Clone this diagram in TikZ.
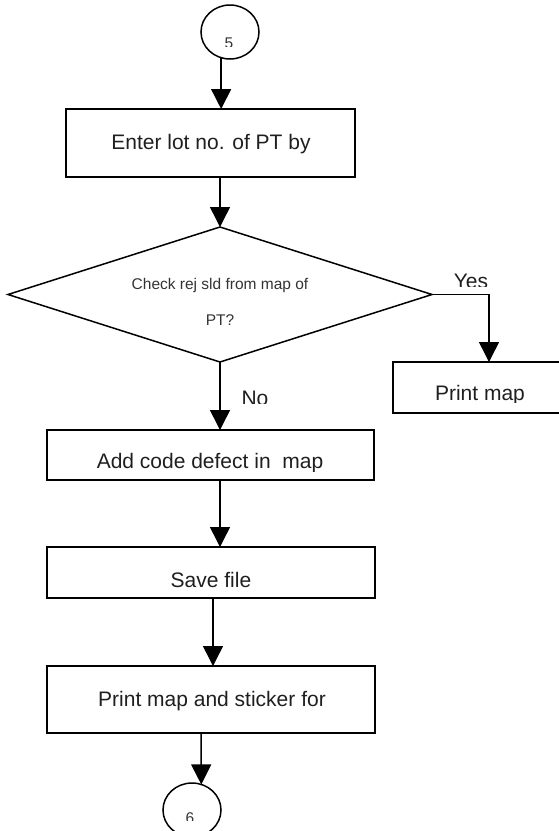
\documentclass[tikz,border=0pt]{standalone}
\usepackage{fontspec}
\setmainfont{Liberation Sans}
\usetikzlibrary{shapes.geometric,arrows.meta}
\begin{document}
\begin{tikzpicture}[x=1pt,y=-1pt,
  flow/.style={line width=1.5pt, draw=black},
  arr/.style={flow, -{Triangle[length=20pt,width=20pt]}},
  procbox/.style={draw, line width=1.5pt, rectangle, inner sep=0pt, outer sep=0pt},
  connector/.style={draw, line width=1.5pt, ellipse, inner sep=0pt, outer sep=0pt,
    minimum width=58pt, minimum height=54pt},
  decision/.style={draw, line width=1.5pt, diamond, inner sep=0pt, outer sep=0pt},
  bigtext/.style={inner sep=0pt, anchor=base, text=black!88, font=\fontsize{21}{25}\selectfont},
  smalltext/.style={inner sep=0pt, anchor=base, text=black!80, font=\fontsize{15.5}{18}\selectfont},
]
\useasboundingbox (0,0) rectangle (559,831);

% shapes
\node[connector] (c5) at (230,32) {};
\node[procbox, minimum width=289pt, minimum height=68pt] (b1) at (210.5,143) {};
\node[decision, minimum width=424pt, minimum height=135pt] (d) at (220,294.5) {};
\node[procbox, minimum width=207pt, minimum height=51pt] (pm) at (496.5,387.5) {};
\node[procbox, minimum width=327pt, minimum height=50pt] (b2) at (210.5,455) {};
\node[procbox, minimum width=328pt, minimum height=51pt] (b3) at (211,572.5) {};
\node[procbox, minimum width=328pt, minimum height=67pt] (b4) at (211,699.5) {};
\node[connector] (c6) at (192,810) {};

% labels
\begin{scope}
  \clip (200,0) rectangle (260,46);
  \node[smalltext] (t5) at (229,48) {5};
\end{scope}
\node[bigtext] (tb1) at (211,149) {Enter lot no. of PT by};
\node[smalltext] (td1) at (220,289) {Check rej sld from map of};
\node[smalltext] (td2) at (220,325) {PT?};
\begin{scope}
  \clip (440,260) rectangle (510,286);
  \node[bigtext] (tyes) at (471,288) {Yes};
\end{scope}
\begin{scope}
  \clip (230,380) rectangle (290,403);
  \node[bigtext] (tno) at (255,405) {No};
\end{scope}
\begin{scope}
  \clip (400,370) rectangle (559,402);
  \node[bigtext] (tpm) at (480,400) {Print map};
\end{scope}
\begin{scope}
  \clip (60,440) rectangle (360,471);
  \node[bigtext] (tb2) at (210,468) {Add code defect in\ \ map};
\end{scope}
\node[bigtext] (tb3) at (211,587) {Save file};
\node[bigtext] (tb4) at (212,706) {Print map and sticker for};
\begin{scope}
  \clip (170,790) rectangle (215,820);
  \node[smalltext] (t6) at (190,823) {6};
\end{scope}

% connectors
\draw[arr] (c5.-109.3) -- (c5.-109.3 |- b1.north);
\draw[arr] (d.north |- b1.south) -- (d.north);
\draw[arr] (d.east) -| ([xshift=-7.5pt]pm.north);
\draw[arr] (d.south) -- (d.south |- b2.north);
\draw[arr] (d.south |- b2.south) -- (d.south |- b3.north);
\draw[arr] ([xshift=2pt]b3.south) -- ([xshift=2pt]b3.south |- b4.north);
\draw[arr] ([xshift=-10pt]b4.south) -- (c6.70.7);
\end{tikzpicture}
\end{document}
